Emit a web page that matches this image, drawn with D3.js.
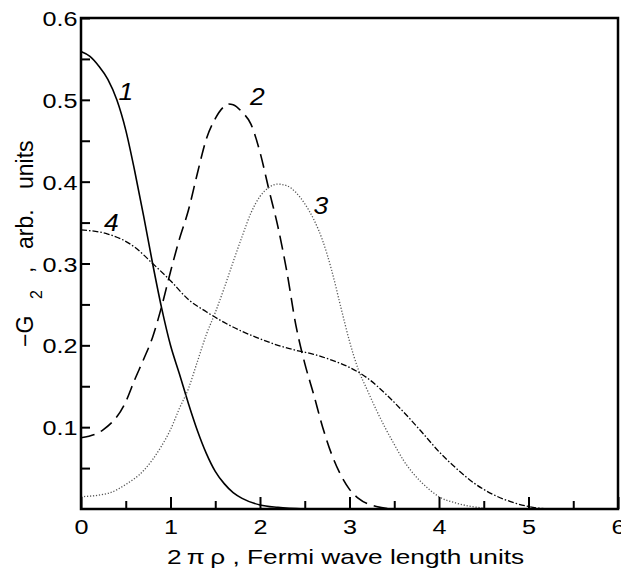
<!DOCTYPE html>
<html lang="en">
<head>
<meta charset="utf-8">
<title>G2 vs 2 pi rho</title>
<script src="https://d3js.org/d3.v7.min.js"></script>
<style>
  body { margin: 0; background: #fff; }
  text { font-family: "Liberation Sans", Arial, sans-serif; fill: #000; }
</style>
</head>
<body>
<script>
// curve values: x in Fermi wave length units, y = -G2
var curve1X = [0, 0.1, 0.2, 0.3, 0.4, 0.5, 0.6, 0.7, 0.8, 0.9, 1.0, 1.1, 1.2, 1.3, 1.4, 1.5, 1.6, 1.7, 1.8, 2.0, 2.2, 2.5];
var curve1Y = [0.559, 0.553, 0.541, 0.525, 0.500, 0.463, 0.413, 0.358, 0.300, 0.246, 0.200, 0.165, 0.129, 0.096, 0.068, 0.046, 0.031, 0.020, 0.013, 0.005, 0.002, 0.0];

var curve2X = [0, 0.25, 0.5, 0.6, 0.7, 0.8, 0.9, 1.0, 1.1, 1.2, 1.3, 1.4, 1.5, 1.6, 1.65, 1.7, 1.8, 1.9, 2.0, 2.1, 2.2, 2.3, 2.4, 2.5, 2.6, 2.7, 2.8, 2.9, 3.0, 3.1, 3.3, 3.5];
var curve2Y = [0.087, 0.097, 0.131, 0.158, 0.183, 0.210, 0.247, 0.290, 0.330, 0.365, 0.410, 0.452, 0.477, 0.492, 0.495, 0.494, 0.485, 0.470, 0.436, 0.390, 0.345, 0.290, 0.225, 0.178, 0.140, 0.100, 0.067, 0.042, 0.024, 0.013, 0.003, 0.0];

var curve3X = [0, 0.3, 0.5, 0.7, 0.9, 1.0, 1.1, 1.2, 1.3, 1.4, 1.5, 1.6, 1.7, 1.8, 1.9, 2.0, 2.1, 2.2, 2.3, 2.4, 2.5, 2.6, 2.7, 2.8, 2.9, 3.0, 3.1, 3.2, 3.3, 3.4, 3.5, 3.6, 3.7, 3.8, 3.9, 4.0, 4.2, 4.5];
var curve3Y = [0.015, 0.019, 0.030, 0.047, 0.077, 0.097, 0.123, 0.147, 0.180, 0.213, 0.240, 0.270, 0.302, 0.333, 0.362, 0.382, 0.393, 0.397, 0.395, 0.387, 0.373, 0.354, 0.328, 0.292, 0.248, 0.205, 0.170, 0.145, 0.121, 0.099, 0.079, 0.060, 0.045, 0.033, 0.023, 0.015, 0.007, 0.001];

var curve4X = [0, 0.3, 0.6, 0.8, 1.0, 1.2, 1.4, 1.6, 1.8, 2.0, 2.2, 2.4, 2.6, 2.8, 3.0, 3.2, 3.4, 3.6, 3.8, 4.0, 4.2, 4.4, 4.6, 4.8, 5.0, 5.2];
var curve4Y = [0.341, 0.336, 0.320, 0.300, 0.279, 0.256, 0.241, 0.228, 0.217, 0.208, 0.200, 0.194, 0.189, 0.182, 0.173, 0.160, 0.141, 0.119, 0.095, 0.070, 0.049, 0.031, 0.018, 0.009, 0.003, 0.0];

var curveNames = ["1", "2", "3", "4"];
// where each curve number sits, in data units
var labelX = [0.50, 1.97, 2.68, 0.34];
var labelY = [0.500, 0.494, 0.361, 0.340];

var xTicks = [0, 1, 2, 3, 4, 5, 6];
var yTicks = [0.1, 0.2, 0.3, 0.4, 0.5, 0.6];

var W = 621, H = 573;
var plotL = 81, plotR = 618, plotT = 18, plotB = 509;

var svg = d3.select("body").append("svg")
	.attr("width", W)
	.attr("height", H);

var x = d3.scaleLinear().domain([0, 6]).range([plotL, plotR]);
var y = d3.scaleLinear().domain([0, 0.6]).range([plotB, plotT]);

var styles = [
	{dash: null, color: "#000", w: 1.6},
	{dash: "14,7", color: "#000", w: 1.6},
	{dash: "1.2,1.8", color: "#555", w: 1.3},
	{dash: "6,2,1.5,2", color: "#000", w: 1.3}
];

var series = [[curve1X, curve1Y], [curve2X, curve2Y], [curve3X, curve3Y], [curve4X, curve4Y]];

var line = d3.line()
	.x(function(d){ return x(d[0]); })
	.y(function(d){ return y(d[1]); })
	.curve(d3.curveMonotoneX);

series.forEach(function(s, i){
	var pts = s[0].map(function(v, k){ return [v, s[1][k]]; });
	svg.append("path")
		.datum(pts)
		.attr("d", line)
		.attr("fill", "none")
		.attr("stroke", styles[i].color)
		.attr("stroke-width", styles[i].w)
		.attr("stroke-dasharray", styles[i].dash);
});

// x axis, ticks inside
var xAxis = svg.append("g")
	.attr("transform", "translate(0," + plotB + ")")
	.call(d3.axisBottom(x).tickValues(xTicks).tickSize(-12).tickFormat(d3.format("d")));
xAxis.selectAll(".tick text")
	.attr("y", 10)
	.attr("transform", "scale(1.2,1)")
	.style("font-size", "21px");

svg.append("g")
	.attr("transform", "translate(0," + plotB + ")")
	.call(d3.axisBottom(x).tickValues(d3.range(0.5, 6, 1)).tickSize(-8).tickFormat(""));

// y axis
var yAxis = svg.append("g")
	.attr("transform", "translate(" + plotL + ",0)")
	.call(d3.axisLeft(y).tickValues(yTicks).tickSize(-9).tickFormat(d3.format(".1f")));
yAxis.selectAll(".tick text")
	.attr("x", -3)
	.attr("dy", "0.36em")
	.attr("transform", "scale(1.2,1)")
	.style("font-size", "21px");

svg.append("g")
	.attr("transform", "translate(" + plotL + ",0)")
	.call(d3.axisLeft(y).tickValues(d3.range(0.05, 0.6, 0.1)).tickSize(-9).tickFormat(""));

svg.selectAll(".domain").remove();
svg.selectAll(".tick line").attr("stroke", "#000").attr("stroke-width", 2);

// frame
svg.append("rect")
	.attr("x", plotL)
	.attr("y", plotT)
	.attr("width", plotR - plotL)
	.attr("height", plotB - plotT)
	.attr("fill", "none")
	.attr("stroke", "#000")
	.attr("stroke-width", 2.5);

// curve numbers
svg.selectAll(".cname")
	.data(curveNames)
	.enter()
	.append("text")
	.attr("class", "cname")
	.attr("transform", function(d, i){ return "translate(" + x(labelX[i]) + "," + y(labelY[i]) + ") scale(1.15,1)"; })
	.attr("text-anchor", "middle")
	.style("font-size", "23px")
	.style("font-style", "italic")
	.text(function(d){ return d; });

// axis titles
svg.append("text")
	.attr("transform", "translate(167,564) scale(1.25,1)")
	.style("font-size", "21px")
	.text("2\u2009\u03c0\u2009\u03c1 ,  Fermi wave length units");

var yl = svg.append("text")
	.attr("transform", "translate(33,347) rotate(-90)")
	.style("font-size", "23px");
yl.append("tspan").attr("x", 0).text("\u2212G");
yl.append("tspan").attr("x", 48).attr("dy", 9).style("font-size", "16px").text("2");
yl.append("tspan").attr("x", 74).attr("dy", -9).text(",");
yl.append("tspan").attr("x", 98).text("arb.");
yl.append("tspan").attr("x", 158).text("units");
</script>
</body>
</html>
